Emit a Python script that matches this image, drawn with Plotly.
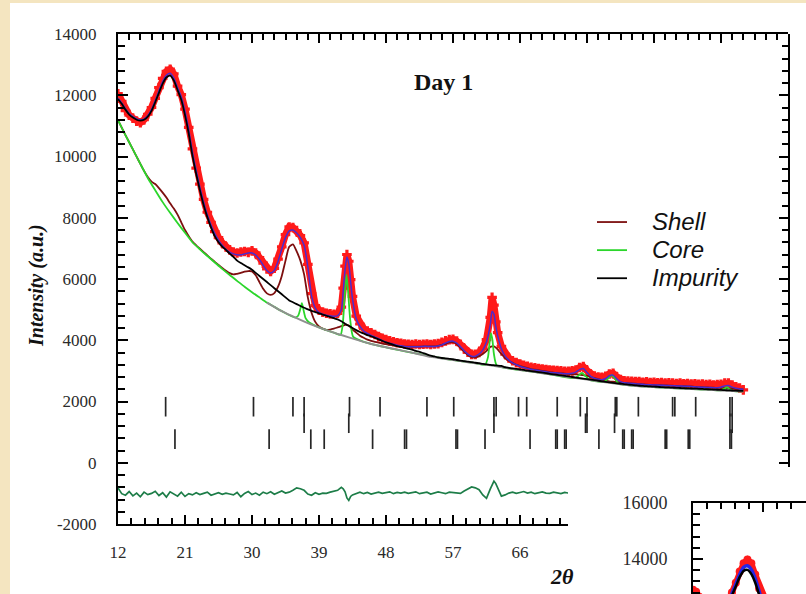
import plotly.graph_objects as go

FIG_W, FIG_H = 806, 594

# ------------------------------------------------------------------ data
TWO_THETA = [
    12.0, 12.5, 13.0, 13.5, 14.0, 14.5, 15.0, 15.5, 16.0, 16.5,
    17.0, 17.5, 18.0, 18.5, 19.0, 19.5, 20.0, 20.5, 21.0, 21.5,
    22.0, 22.5, 23.0, 23.5, 24.0, 24.5, 25.0, 25.5, 26.0, 26.5,
    27.0, 27.5, 28.0, 28.5, 29.0, 29.5, 30.0, 30.5, 31.0, 31.5,
    32.0, 32.5, 33.0, 33.5, 34.0, 34.5, 35.0, 35.5, 36.0, 36.5,
    37.0, 37.5, 38.0, 38.5, 39.0, 39.5, 40.0, 40.5, 41.0, 41.5,
    42.0, 42.25, 42.5, 42.75, 43.0, 43.25, 43.5, 44.0, 44.5, 45.0, 45.5, 46.0, 46.5,
    47.0, 47.5, 48.0, 48.5, 49.0, 49.5, 50.0, 50.5, 51.0, 51.5,
    52.0, 52.5, 53.0, 53.5, 54.0, 54.5, 55.0, 55.5, 56.0, 56.5,
    57.0, 57.5, 58.0, 58.5, 59.0, 59.5, 60.0, 60.5, 61.0, 61.5,
    62.0, 62.25, 62.5, 62.75, 63.0, 63.5, 64.0, 64.5, 65.0, 65.5, 66.0, 66.5,
    67.0, 67.5, 68.0, 68.5, 69.0, 69.5, 70.0, 70.5, 71.0, 71.5,
    72.0, 72.5, 73.0, 73.5, 74.0, 74.5, 75.0, 75.5, 76.0, 76.5,
    77.0, 77.5, 78.0, 78.5, 79.0, 79.5, 80.0, 80.5, 81.0, 81.5,
    82.0, 82.5, 83.0, 83.5, 84.0, 84.5, 85.0, 85.5, 86.0, 86.5,
    87.0, 87.5, 88.0, 88.5, 89.0, 89.5, 90.0, 90.5, 91.0, 91.5,
    92.0, 92.5, 93.0, 93.5, 94.0, 94.5, 95.0, 95.5, 96.0,
]

OBSERVED = [
    12050, 11800, 11500, 11350, 11250, 11150, 11100, 11200, 11380, 11600,
    11900, 12250, 12550, 12780, 12850, 12700, 12300, 12020, 11550, 10950,
    10250, 9620, 9100, 8600, 8180, 7850, 7550, 7350, 7180, 7050,
    6950, 6880, 6850, 6880, 6900, 6870, 6920, 6850, 6700, 6520,
    6330, 6250, 6350, 6650, 7050, 7450, 7700, 7680, 7580, 7420,
    7180, 6480, 5520, 5130, 4980, 4920, 4880, 4860, 4850, 4880,
    5080, 5700, 6420, 6800, 6580, 5980, 5430, 4790, 4530, 4380, 4300, 4240, 4190,
    4120, 4060, 4020, 3980, 3950, 3920, 3900, 3880, 3870, 3860,
    3880, 3860, 3870, 3880, 3860, 3880, 3890, 3930, 3980, 4020,
    4030, 3970, 3860, 3720, 3610, 3540, 3540, 3600, 3740, 4020,
    4750, 5400, 5150, 4600, 4250, 3800, 3550, 3420, 3330, 3270, 3220, 3180,
    3150, 3120, 3100, 3080, 3060, 3040, 3030, 3020, 3010, 3000,
    2990, 2990, 3000, 3030, 3110, 3140, 3010, 2880, 2830, 2800,
    2790, 2820, 2900, 2920, 2800, 2720, 2680, 2670, 2660, 2650,
    2650, 2630, 2640, 2620, 2630, 2610, 2620, 2600, 2610, 2600,
    2590, 2600, 2580, 2590, 2570, 2580, 2560, 2570, 2550, 2560,
    2540, 2550, 2560, 2600, 2600, 2540, 2480, 2440, 2380,
]

CALCULATED = [
    11900, 11750, 11560, 11400, 11300, 11230, 11200, 11230, 11340, 11540,
    11830, 12150, 12450, 12650, 12720, 12560, 12250, 11950, 11480, 10880,
    10150, 9550, 9000, 8520, 8100, 7760, 7480, 7270, 7100, 6970,
    6880, 6820, 6790, 6790, 6820, 6850, 6850, 6780, 6640, 6450,
    6280, 6200, 6280, 6580, 6980, 7350, 7570, 7600, 7500, 7350,
    7100, 6400, 5450, 5050, 4900, 4850, 4820, 4800, 4780, 4800,
    5000, 5600, 6300, 6720, 6500, 5900, 5350, 4700, 4450, 4300, 4220, 4160, 4110,
    4050, 3990, 3940, 3900, 3870, 3840, 3820, 3800, 3790, 3790,
    3790, 3790, 3800, 3800, 3800, 3800, 3810, 3850, 3910, 3960,
    3970, 3910, 3790, 3660, 3550, 3480, 3480, 3550, 3680, 3950,
    4500, 4950, 4850, 4450, 4150, 3720, 3480, 3350, 3260, 3200, 3150, 3110,
    3080, 3050, 3030, 3010, 2990, 2970, 2950, 2940, 2930, 2920,
    2910, 2910, 2920, 2960, 3040, 3080, 2950, 2820, 2760, 2730,
    2710, 2750, 2840, 2860, 2740, 2650, 2610, 2600, 2590, 2580,
    2570, 2560, 2550, 2545, 2540, 2535, 2530, 2525, 2520, 2515,
    2510, 2505, 2500, 2495, 2490, 2480, 2470, 2465, 2460, 2455,
    2450, 2450, 2470, 2510, 2520, 2470, 2430, 2410, 2400,
]

SHELL = [
    11190, 10940, 10700, 10465, 10230, 9995, 9760, 9530, 9330, 9180,
    9100, 8970, 8820, 8660, 8470, 8300, 8100, 7850, 7600, 7400,
    7220, 7100, 6990, 6880, 6770, 6660, 6560, 6460, 6360, 6270,
    6190, 6150, 6170, 6200, 6240, 6260, 6250, 6120, 5900, 5680,
    5530, 5480, 5540, 5750, 6100, 6600, 7050, 7130, 6900, 6600,
    6150, 5400, 4900, 4600, 4450, 4380, 4340, 4350, 4380, 4420,
    4460, 4480, 4500, 4500, 4480, 4420, 4350, 4250, 4150, 4080, 4020, 3980, 3950,
    3920, 3890, 3870, 3850, 3830, 3810, 3800, 3790, 3790, 3790,
    3790, 3790, 3800, 3800, 3800, 3800, 3820, 3850, 3880, 3930,
    3940, 3880, 3760, 3630, 3520, 3450, 3440, 3480, 3550, 3650,
    3780, 3800, 3800, 3760, 3700, 3550, 3420, 3330, 3260, 3200, 3160, 3120,
    3090, 3060, 3040, 3020, 3000, 2980, 2960, 2945, 2930, 2920,
    2910, 2900, 2890, 2885, 2880, 2860, 2840, 2800, 2760, 2730,
    2700, 2680, 2660, 2645, 2630, 2620, 2610, 2600, 2590, 2580,
    2570, 2560, 2550, 2545, 2540, 2535, 2530, 2525, 2520, 2515,
    2510, 2505, 2500, 2495, 2490, 2480, 2470, 2465, 2460, 2455,
    2450, 2445, 2440, 2435, 2430, 2425, 2415, 2405, 2395,
]

IMPURITY = [
    11880, 11720, 11530, 11370, 11270, 11200, 11170, 11200, 11300, 11490,
    11770, 12080, 12380, 12580, 12640, 12480, 12170, 11850, 11350, 10750,
    10030, 9430, 8900, 8420, 8020, 7680, 7400, 7200, 7060, 6950,
    6830, 6720, 6600, 6520, 6450, 6380, 6300, 6200, 6100, 6000,
    5900, 5800, 5700, 5600, 5500, 5400, 5300, 5240, 5180, 5120,
    5060, 5010, 4960, 4920, 4880, 4840, 4800, 4760, 4720, 4680,
    4620, 4580, 4540, 4500, 4470, 4440, 4400, 4330, 4270, 4220, 4170, 4130, 4080,
    4030, 3980, 3930, 3890, 3850, 3810, 3780, 3750, 3720, 3690,
    3650, 3620, 3580, 3540, 3500, 3470, 3440, 3420, 3410, 3395,
    3380, 3355, 3335, 3320, 3300, 3285, 3265, 3250, 3230, 3215,
    3195, 3190, 3185, 3180, 3175, 3160, 3120, 3100, 3080, 3065, 3045, 3030,
    3010, 2993, 2975, 2958, 2940, 2923, 2905, 2888, 2870, 2853,
    2835, 2818, 2800, 2783, 2765, 2748, 2730, 2713, 2695, 2678,
    2660, 2643, 2625, 2610, 2595, 2580, 2565, 2553, 2540, 2528,
    2515, 2508, 2500, 2493, 2485, 2478, 2470, 2464, 2458, 2452,
    2445, 2441, 2435, 2430, 2425, 2420, 2415, 2409, 2403, 2396,
    2390, 2384, 2378, 2371, 2365, 2359, 2353, 2349, 2345,
]

DIFFERENCE = [
    -820, -1010, -1060, -940, -1080, -990, -1110, -960, -1040, -1000,
    -930, -1070, -980, -1120, -950, -1030, -1090, -960, -1100, -1010,
    -1050, -980, -1040, -1000, -960, -1060, -1010, -980, -1030, -990,
    -1020, -1050, -970, -1110, -1000, -940, -1040, -990, -1060, -960,
    -1010, -950, -1030, -970, -920, -990, -960, -900, -820, -850,
    -900, -1020, -1060, -980, -1030, -990, -1000, -960, -940, -900,
    -800, -850, -950, -1150, -1230, -1100, -1050, -1000, -960, -1010, -970, -1020, -990,
    -960, -1000, -980, -950, -1010, -970, -990, -960, -1000, -980,
    -950, -1010, -980, -960, -1020, -990, -950, -980, -1010, -960,
    -970, -990, -1000, -920, -850, -790, -820, -880, -1050, -1160,
    -860, -700, -600, -680, -820, -1090, -1050, -990, -960, -1000, -970, -940,
    -990, -960, -1010, -970, -950, -990, -1000, -960, -980, -1010,
    -970, -990, -950, -1000, -960, -1020, -980, -990, -960, -1000,
    -980, -950, -1010, -970, -990, -960, -1000, -980, -970, -990,
    -960, -1000, -980, -1010, -970, -990, -950, -1000, -980, -960,
    -990, -1010, -970, -980, -1000, -960, -990, -970, -1010, -980,
    -960, -990, -1000, -970, -980, -1010, -990, -970, -1000,
]

BG_TWO_THETA = [12, 14, 16, 18, 20, 22, 24, 26, 28, 30,
                32, 34, 36, 38, 40, 42, 44, 46, 48, 50,
                52, 54, 56, 58, 60, 62, 64, 66, 68, 70,
                72, 74, 76, 78, 80, 82, 84, 86, 88, 90,
                92, 94, 96]
BACKGROUND = [11190, 10230, 9300, 8510, 7830, 7200, 6750, 6330, 5940, 5570,
              5230, 4950, 4720, 4510, 4330, 4170, 4020, 3880, 3770, 3670,
              3570, 3460, 3390, 3320, 3250, 3180, 3105, 3030, 2960, 2890,
              2820, 2750, 2680, 2610, 2550, 2500, 2470, 2445, 2420, 2400,
              2375, 2350, 2330]

CORE_TWO_THETA = [12, 13, 14, 15, 16, 17, 18, 19, 20, 21, 22, 23, 24, 25, 26,
                  27, 28, 29, 30, 31, 32, 33, 34,
                  35.8, 36.2, 36.5, 36.7, 36.9, 37.2, 37.6, 39, 41,
                  41.9, 42.2, 42.45, 42.7, 42.95, 43.2, 43.6, 45, 48, 52, 56, 60,
                  61.3, 61.7, 61.9, 62.1, 62.3, 62.5, 62.9, 66, 70,
                  73.3, 73.8, 74.3, 74.8, 75.4,
                  77.3, 77.8, 78.3, 78.8, 79.3, 84, 90,
                  93.0, 93.5, 93.8, 94.1, 94.6, 96]
CORE = [11190, 10700, 10230, 9760, 9300, 8900, 8510, 8160, 7830, 7510, 7200, 6970, 6750, 6540, 6330,
        6130, 5940, 5750, 5570, 5400, 5230, 5090, 4950,
        4740, 4800, 5030, 5210, 5010, 4720, 4600, 4420, 4250,
        4180, 4550, 5450, 6130, 5450, 4650, 4110, 3950, 3770, 3570, 3390, 3250,
        3200, 3450, 3900, 4230, 4000, 3550, 3170, 3030, 2890,
        2765, 2830, 2930, 2830, 2705,
        2640, 2740, 2860, 2730, 2580, 2470, 2400,
        2365, 2420, 2470, 2410, 2350, 2330]

BRAGG_SHELL = [18.4, 30.2, 35.5, 37.0, 43.1, 47.2, 53.5, 57.1, 62.5, 62.8,
               65.8, 66.9, 71.0, 74.1, 75.0, 78.8, 79.0, 81.9, 86.5, 86.8,
               89.6, 94.2, 94.5]
BRAGG_CORE = [37.0, 43.0, 62.5, 74.8, 75.0, 78.7, 94.2, 94.5]
BRAGG_IMPURITY = [19.65, 32.3, 37.9, 39.7, 46.2, 50.5, 50.75, 57.4, 57.6, 61.3,
                  67.35, 70.8, 71.0, 72.0, 72.2, 76.6, 79.8, 80.0, 81.0, 81.2,
                  85.5, 85.7, 88.6, 88.8, 94.2, 94.4]

INSET_TWO_THETA = [12.0, 12.4, 12.8, 14.0, 15.5, 16.5, 17.0, 17.5, 18.0, 18.5,
                   19.0, 19.5, 20.0, 20.5, 21.0, 22.0, 24.0, 26.0, 27.0]
INSET_OBSERVED = [12900, 12830, 12650, 12350, 12300, 12550, 12800, 13150, 13550, 13850,
                  13980, 13850, 13450, 12950, 12500, 11700, 10300, 9400, 9100]
INSET_CALCULATED = [12720, 12690, 12600, 12330, 12280, 12500, 12760, 13100, 13450, 13700,
                    13760, 13620, 13300, 12850, 12400, 11600, 10250, 9350, 9050]
INSET_IMPURITY = [12680, 12650, 12560, 12300, 12250, 12460, 12700, 13020, 13350, 13570,
                  13610, 13460, 13150, 12720, 12280, 11500, 10150, 9250, 8950]

Y_TICK_VALUES = [-2000, 0, 2000, 4000, 6000, 8000, 10000, 12000, 14000]
Y_TICK_LABELS = ["-2000", "0", "2000", "4000", "6000", "8000", "10000", "12000", "14000"]
X_TICK_VALUES = [12, 21, 30, 39, 48, 57, 66, 75, 84, 93, 102]
X_TICK_LABELS = ["12", "21", "30", "39", "48", "57", "66", "75", "84", "93", "102"]
INSET_Y_TICK_VALUES = [14000, 16000]
INSET_Y_TICK_LABELS = ["14000", "16000"]
LEGEND_NAMES = ["Shell", "Core", "Impurity"]

# ------------------------------------------------------------------ layout helpers
def px_x(p):
    return p / FIG_W


def px_y(p):
    return 1 - p / FIG_H


PLOT_L, PLOT_R, PLOT_T, PLOT_B = 118, 788, 34, 524
X_RANGE = [12, 102]
Y_RANGE = [-2000, 14000]
x_scale = (PLOT_R - PLOT_L) / (X_RANGE[1] - X_RANGE[0])
y_scale = (PLOT_B - PLOT_T) / (Y_RANGE[1] - Y_RANGE[0])
INSET_LEFT_PX, INSET_TOP_PX = 568, 467      # where the overlapping inset starts
x3_max = X_RANGE[0] + (INSET_LEFT_PX - PLOT_L) / x_scale
y3_min = Y_RANGE[0] + (PLOT_B - INSET_TOP_PX) / y_scale

BRAGG_LEVELS = [1830, 1290, 770]

SERIF = "Liberation Serif"
SANS = "Liberation Sans"
TICK_FONT = dict(family=SERIF, size=17, color="#2a2a2a")
SPLINE = dict(shape="spline", smoothing=0.6)


def legend_label(name):
    return ("<span style='font-size:24px'>&nbsp;&nbsp;&nbsp;<i>%s</i></span>" % name)


fig = go.Figure()

# observed (dense red band)
fig.add_trace(go.Scatter(x=TWO_THETA, y=OBSERVED, mode="lines+markers",
                         line=dict(color="#ff1a1a", width=7),
                         marker=dict(color="#ff1a1a", size=8, symbol="cross", line=dict(width=0)),
                         showlegend=False, hoverinfo="skip"))
# shell
fig.add_trace(go.Scatter(x=TWO_THETA, y=SHELL, mode="lines", name=legend_label(LEGEND_NAMES[0]),
                         line=dict(color="#7d0f0f", width=1.8, **SPLINE),
                         legendrank=1, hoverinfo="skip"))
# core (green)
fig.add_trace(go.Scatter(x=CORE_TWO_THETA, y=CORE, mode="lines", name=legend_label(LEGEND_NAMES[1]),
                         line=dict(color="#2bd62b", width=1.8, **SPLINE),
                         legendrank=2, hoverinfo="skip"))
# background (grey) on the right part
bg_x = [t for t in BG_TWO_THETA if t >= 32]
bg_y = [v for t, v in zip(BG_TWO_THETA, BACKGROUND) if t >= 32]
fig.add_trace(go.Scatter(x=bg_x, y=bg_y, mode="lines",
                         line=dict(color="#8f8f8f", width=2, **SPLINE),
                         showlegend=False, hoverinfo="skip"))
# calculated
fig.add_trace(go.Scatter(x=TWO_THETA, y=CALCULATED, mode="lines",
                         line=dict(color="#4a2ccf", width=1.5, **SPLINE),
                         showlegend=False, hoverinfo="skip"))
# impurity
fig.add_trace(go.Scatter(x=TWO_THETA, y=IMPURITY, mode="lines", name=legend_label(LEGEND_NAMES[2]),
                         line=dict(color="#000000", width=1.8, **SPLINE),
                         legendrank=3, hoverinfo="skip"))
# Bragg ticks
for positions, level in zip([BRAGG_SHELL, BRAGG_CORE, BRAGG_IMPURITY], BRAGG_LEVELS):
    fig.add_trace(go.Scatter(x=positions, y=[level] * len(positions), mode="markers",
                             marker=dict(symbol="line-ns-open", size=14, color="#262626",
                                         line=dict(width=1.7, color="#262626")),
                             showlegend=False, hoverinfo="skip"))
# difference curve (on the bottom axis that ends at the inset)
fig.add_trace(go.Scatter(x=TWO_THETA, y=DIFFERENCE, mode="lines", xaxis="x3", yaxis="y",
                         line=dict(color="#1d7d48", width=1.7),
                         showlegend=False, hoverinfo="skip"))
# dummies so that frame axes exist
fig.add_trace(go.Scatter(x=[None], y=[None], xaxis="x4", yaxis="y", showlegend=False, hoverinfo="skip"))
fig.add_trace(go.Scatter(x=[None], y=[None], xaxis="x", yaxis="y3", showlegend=False, hoverinfo="skip"))

# inset
fig.add_trace(go.Scatter(x=INSET_TWO_THETA, y=INSET_OBSERVED, mode="lines+markers", xaxis="x2", yaxis="y2",
                         line=dict(color="#ff1a1a", width=6),
                         marker=dict(color="#ff1a1a", size=8), showlegend=False, hoverinfo="skip"))
fig.add_trace(go.Scatter(x=INSET_TWO_THETA, y=INSET_CALCULATED, mode="lines", xaxis="x2", yaxis="y2",
                         line=dict(color="#2626e6", width=3.5, **SPLINE),
                         showlegend=False, hoverinfo="skip"))
fig.add_trace(go.Scatter(x=INSET_TWO_THETA, y=INSET_IMPURITY, mode="lines", xaxis="x2", yaxis="y2",
                         line=dict(color="#000000", width=2.5, **SPLINE),
                         showlegend=False, hoverinfo="skip"))

main_x_dom = [px_x(PLOT_L), px_x(PLOT_R)]
main_y_dom = [px_y(PLOT_B), px_y(PLOT_T)]

axis_common = dict(showgrid=False, zeroline=False, linecolor="black", linewidth=2,
                   ticks="inside", tickcolor="black", tickwidth=2, showline=True,
                   automargin=False)

fig.update_layout(
    width=FIG_W, height=FIG_H, autosize=False,
    margin=dict(l=0, r=0, t=0, b=0, pad=0),
    paper_bgcolor="white", plot_bgcolor="rgba(0,0,0,0)",
    xaxis=dict(domain=main_x_dom, range=X_RANGE, anchor="y", visible=False, automargin=False),
    yaxis=dict(domain=main_y_dom, range=Y_RANGE, anchor="x", side="left",
               tickmode="array", tickvals=Y_TICK_VALUES, ticktext=Y_TICK_LABELS,
               ticklen=10, tickfont=TICK_FONT, ticklabelstandoff=16,
               minor=dict(ticks="inside", tickmode="linear", tick0=0, dtick=400,
                          ticklen=7, tickwidth=1.5, tickcolor="black"),
               **axis_common),
    xaxis3=dict(domain=[px_x(PLOT_L), px_x(INSET_LEFT_PX)], range=[X_RANGE[0], x3_max],
                anchor="y", side="bottom",
                tickmode="array", tickvals=X_TICK_VALUES, ticktext=X_TICK_LABELS,
                ticklen=9, tickfont=TICK_FONT, ticklabelstandoff=12,
                minor=dict(ticks="inside", tickmode="linear", tick0=12, dtick=1.8,
                           ticklen=6, tickwidth=1.5, tickcolor="black"),
                **axis_common),
    xaxis4=dict(domain=main_x_dom, range=X_RANGE, anchor="y", side="top",
                tickmode="array", tickvals=X_TICK_VALUES, showticklabels=False, ticklen=9,
                minor=dict(ticks="inside", tickmode="linear", tick0=12, dtick=1.5,
                           ticklen=6, tickwidth=1.5, tickcolor="black"),
                **axis_common),
    yaxis3=dict(domain=[px_y(INSET_TOP_PX), px_y(PLOT_T)], range=[y3_min, Y_RANGE[1]],
                anchor="x", side="right",
                tickmode="array", tickvals=Y_TICK_VALUES, showticklabels=False, ticklen=9,
                minor=dict(ticks="inside", tickmode="linear", tick0=0, dtick=400,
                           ticklen=6, tickwidth=1.5, tickcolor="black"),
                **axis_common),
    xaxis2=dict(domain=[px_x(693), 1.0], range=[12, 12 + (806 - 693) / 7.78],
                anchor="y2", side="top", showticklabels=False,
                tickmode="array", tickvals=X_TICK_VALUES, ticklen=9,
                minor=dict(ticks="inside", tickmode="linear", tick0=12, dtick=1.8,
                           ticklen=6, tickwidth=1.5, tickcolor="black"),
                **axis_common),
    yaxis2=dict(domain=[0, px_y(503)], range=[16000 - (594 - 503) / 0.028, 16000],
                anchor="x2", side="left",
                tickmode="array", tickvals=INSET_Y_TICK_VALUES, ticktext=INSET_Y_TICK_LABELS,
                ticklen=10, tickfont=dict(family=SERIF, size=18, color="#2a2a2a"),
                ticklabelstandoff=20,
                minor=dict(ticks="inside", tickmode="linear", tick0=0, dtick=400,
                           ticklen=7, tickwidth=1.5, tickcolor="black"),
                **axis_common),
    legend=dict(x=px_x(592), y=px_y(203), xanchor="left", yanchor="top",
                bgcolor="rgba(0,0,0,0)", font=dict(family=SANS, size=19.3, color="#111111"),
                tracegroupgap=0, itemwidth=30),
    shapes=[
        dict(type="rect", xref="paper", yref="paper", x0=0, x1=px_x(10), y0=0, y1=1,
             fillcolor="#f4e5c0", line=dict(width=0), layer="below"),
        dict(type="rect", xref="paper", yref="paper", x0=0, x1=1, y0=px_y(3), y1=1,
             fillcolor="#f4e5c0", line=dict(width=0), layer="below"),
    ],
    annotations=[
        dict(text="<b>Day 1</b>", x=px_x(443), y=px_y(82), xref="paper", yref="paper",
             showarrow=False, xanchor="center", yanchor="middle",
             font=dict(family=SERIF, size=24, color="#111111")),
        dict(text="<b><i>Intensity (a.u.)</i></b>", x=px_x(37), y=px_y(286),
             xref="paper", yref="paper", showarrow=False, textangle=-90,
             xanchor="center", yanchor="middle",
             font=dict(family=SERIF, size=20, color="#111111")),
        dict(text="<b><i>2θ</i></b>", x=px_x(548), y=px_y(576), xref="paper", yref="paper",
             showarrow=False, xanchor="left", yanchor="middle",
             font=dict(family=SERIF, size=22, color="#111111")),
    ],
)

fig.write_html("out.html")
